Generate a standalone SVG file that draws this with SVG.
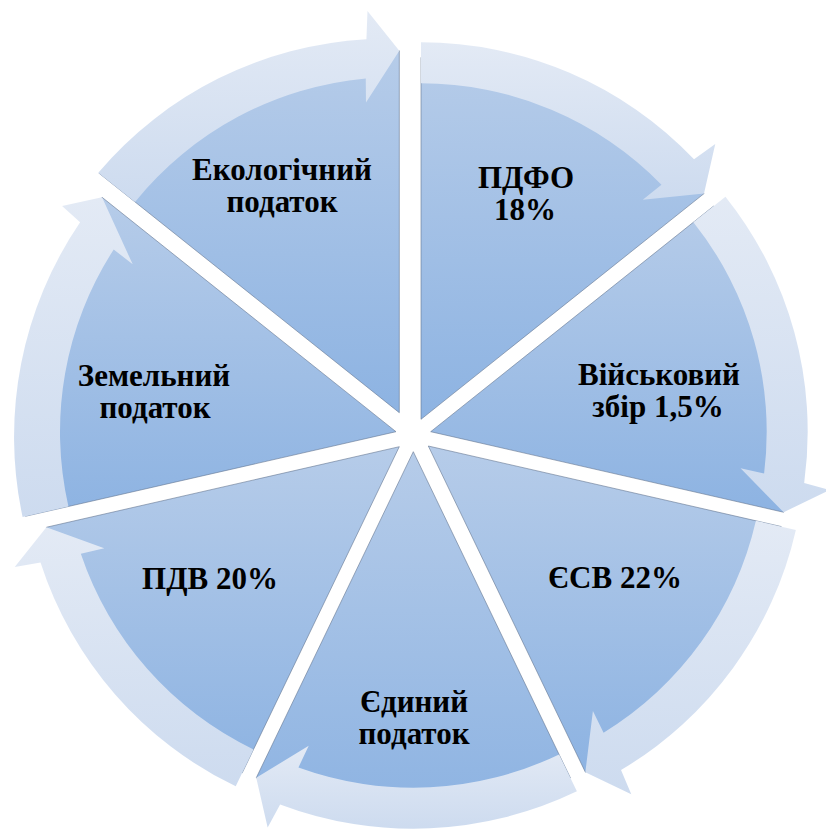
<svg xmlns="http://www.w3.org/2000/svg" width="826" height="829" viewBox="0 0 826 829">
<defs>
<linearGradient id="gw" x1="0" y1="0" x2="0" y2="1">
<stop offset="0" stop-color="#b6cce9"/>
<stop offset="1" stop-color="#8db3e2"/>
</linearGradient>
<linearGradient id="ga" x1="0" y1="0" x2="0" y2="1">
<stop offset="0" stop-color="#e3eaf5"/>
<stop offset="1" stop-color="#cddbef"/>
</linearGradient>
<style>
.w{fill:url(#gw);stroke:#5d6f8a;stroke-width:0.7;stroke-opacity:0.8}
.a{fill:url(#ga);stroke:none}
</style>
</defs>
<rect width="826" height="829" fill="#fff"/>
<g font-family="Liberation Serif, serif" font-weight="bold" font-size="31" text-anchor="middle" fill="#000">
<g id="node-pdfo">
<path class="w" d="M421,419.3 L421,57.3 A362,362 0 0 1 704.02,193.6 Z"/>
<text x="526" y="188">ПДФО</text>
<text x="525" y="220">18%</text>
</g>
<g id="node-viyskovyi">
<path class="w" d="M430.7,431.7 L713.72,206 A362,362 0 0 1 783.62,512.25 Z"/>
<text x="659" y="385">Військовий</text>
<text x="658" y="417">збір 1,5%</text>
</g>
<g id="node-esv">
<path class="w" d="M428.3,446 L781.22,526.55 A362,362 0 0 1 585.36,772.15 Z"/>
<text x="615" y="588">ЄСВ 22%</text>
</g>
<g id="node-yedynyi">
<path class="w" d="M413.3,451.7 L570.36,777.85 A362,362 0 0 1 256.24,777.85 Z"/>
<text x="414" y="712">Єдиний</text>
<text x="414" y="744">податок</text>
</g>
<g id="node-pdv">
<path class="w" d="M399.3,446.7 L242.24,772.85 A362,362 0 0 1 46.38,527.25 Z"/>
<text x="210" y="589">ПДВ 20%</text>
</g>
<g id="node-zemelnyi">
<path class="w" d="M396,431.7 L25.53,516.26 A378,378 0 0 1 102.03,197.27 Z"/>
<text x="154" y="386">Земельний</text>
<text x="155" y="418">податок</text>
</g>
<g id="node-ekologichnyi">
<path class="w" d="M399.3,412.7 L99.08,173.28 A373,373 0 0 1 399.3,50.7 Z"/>
<text x="282" y="180">Екологічний</text>
<text x="282" y="212">податок</text>
</g>
</g>
<g id="connectors">
<path class="a" d="M421,42.3 A377,377 0 0 1 694.02,159.31 L715.26,143.94 L704.02,193.6 L642.77,199.84 L661.48,184.63 A336,336 0 0 0 421,83.3 Z"/>
<path class="a" d="M725.45,196.64 A377,377 0 0 1 804.19,483.05 L829.45,490.07 L783.62,512.25 L740.55,468.26 L764.1,473.4 A336,336 0 0 0 693.39,222.21 Z"/>
<path class="a" d="M795.85,529.89 A377,377 0 0 1 621.02,770.02 L631.28,794.15 L585.36,772.15 L592.91,711.04 L603.57,732.67 A336,336 0 0 0 755.88,520.77 Z"/>
<path class="a" d="M576.87,791.37 A377,377 0 0 1 280.12,804.39 L267.66,827.46 L256.24,777.85 L308.71,745.65 L298.46,767.46 A336,336 0 0 0 559.08,754.43 Z"/>
<path class="a" d="M235.73,786.37 A377,377 0 0 1 40.52,562.49 L14.71,567.12 L46.38,527.25 L104.27,548.21 L80.82,553.79 A336,336 0 0 0 253.52,749.43 Z"/>
<path class="a" d="M22.6,516.93 A381,381 0 0 1 80.11,222.28 L62.07,206.1 L102.03,197.27 L132.7,264.32 L113.71,249.47 A336,336 0 0 0 68.42,506.47 Z"/>
<path class="a" d="M98.3,172.66 A380,380 0 0 1 366.43,39.14 L367.48,10.96 L399.3,50.7 L365.99,102.48 L365.76,78.38 A337,337 0 0 0 135.04,201.96 Z"/>
</g>
</svg>
